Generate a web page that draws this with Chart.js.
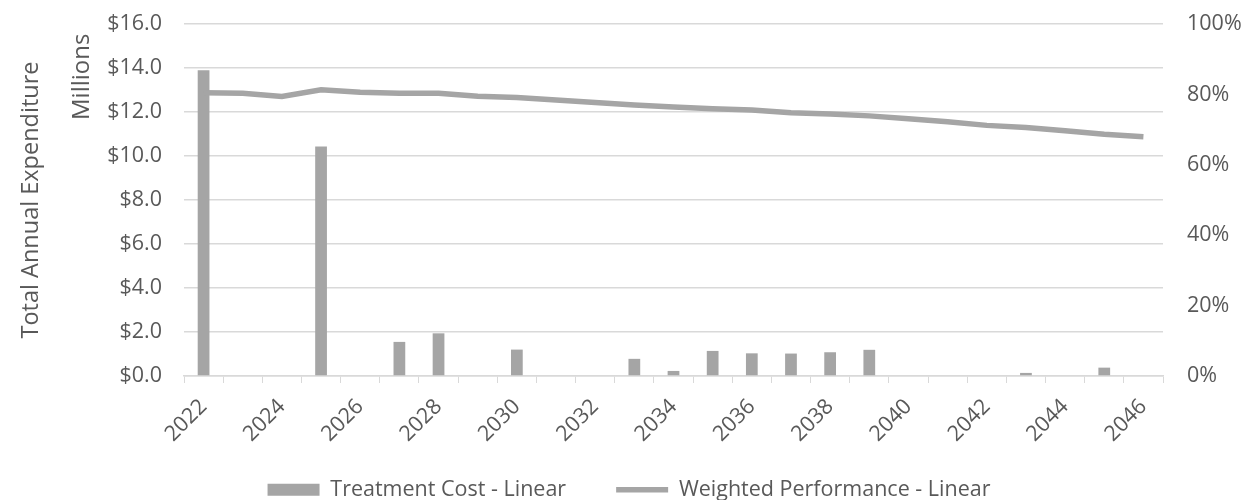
<!DOCTYPE html>
<html>
<head>
<meta charset="utf-8">
<script src="https://cdn.jsdelivr.net/npm/chart.js@4/dist/chart.umd.min.js"></script>
<style>
  html, body { margin: 0; padding: 0; background: #ffffff; }
  #wrap { width: 1245px; height: 500px; }
</style>
</head>
<body>
<div id="wrap"><canvas id="chart" width="1245" height="500"></canvas></div>
<script>
// Plan years
const years = ['2022','2023','2024','2025','2026','2027','2028','2029','2030','2031','2032','2033','2034',
               '2035','2036','2037','2038','2039','2040','2041','2042','2043','2044','2045','2046'];

// Treatment cost per year, $ millions
const treatmentCost = [13.9, 0, 0, 10.43, 0, 1.55, 1.94, 0, 1.2, 0, 0, 0.78, 0.23,
                       1.14, 1.03, 1.02, 1.08, 1.19, 0, 0, 0, 0.14, 0, 0.38, 0];

// Weighted network performance, %
const weightedPerformance = [80.5, 80.3, 79.4, 81.3, 80.6, 80.3, 80.3, 79.5, 79.1, 78.4, 77.7, 77.0, 76.4,
                             75.9, 75.6, 74.8, 74.4, 73.9, 73.1, 72.2, 71.2, 70.6, 69.7, 68.7, 68.0];

// Axis ranges
const costAxis = { min: 0, max: 16, step: 2 };
const performanceAxis = { min: 0, max: 100, step: 20 };

const FONT = "'Open Sans', 'Liberation Sans', sans-serif";
const GREY = '#a5a5a5';
const TEXT = '#595959';
const GRID = '#d9d9d9';

// Display-units caption beside the cost axis
const unitsCaption = {
  id: 'unitsCaption',
  afterDraw(chart) {
    const scale = chart.scales.y;
    const ctx = chart.ctx;
    ctx.save();
    ctx.translate(scale.left + 69, scale.getPixelForValue(13.6));
    ctx.rotate(-Math.PI / 2);
    ctx.font = `24px ${FONT}`;
    ctx.fillStyle = TEXT;
    ctx.textAlign = 'center';
    ctx.textBaseline = 'middle';
    ctx.fillText('Millions', 0, 0);
    ctx.restore();
  }
};

// Let the slanted year labels run down into the legend band instead of being cut at the axis box
const yearLabelRoom = {
  id: 'yearLabelRoom',
  beforeDraw(chart) {
    chart.scales.x.bottom = chart.height;
  }
};

// Vertical axes: fixed width, and no extra head/foot room beyond the layout padding
const fixVertical = width => scale => {
  scale.width = width;
  scale.paddingTop = 0;
  scale.paddingBottom = 0;
};

new Chart(document.getElementById('chart'), {
  data: {
    labels: years,
    datasets: [
      {
        type: 'bar',
        label: 'Treatment Cost - Linear',
        data: treatmentCost,
        yAxisID: 'y',
        backgroundColor: GREY,
        borderWidth: 0,
        categoryPercentage: 1,
        barPercentage: 0.3,
        order: 2
      },
      {
        type: 'line',
        label: 'Weighted Performance - Linear',
        data: weightedPerformance,
        yAxisID: 'y2',
        borderColor: GREY,
        backgroundColor: GREY,
        borderWidth: 5.5,
        pointRadius: 0,
        pointHoverRadius: 0,
        tension: 0,
        fill: false,
        order: 1
      }
    ]
  },
  options: {
    responsive: false,
    devicePixelRatio: 1,
    animation: false,
    layout: { padding: { left: 13, right: 0, top: 24, bottom: 0 } },
    plugins: {
      tooltip: { enabled: false },
      legend: {
        position: 'bottom',
        maxHeight: 71,
        labels: {
          usePointStyle: true,
          pointStyleWidth: 52,
          boxHeight: 12,
          padding: 50,
          color: TEXT,
          font: { family: FONT, size: 21.5 },
          sort: (a, b) => a.datasetIndex - b.datasetIndex,
          generateLabels(chart) {
            const items = Chart.defaults.plugins.legend.labels.generateLabels(chart);
            items.forEach(item => {
              if (item.datasetIndex === 0) {
                item.pointStyle = 'rect';
                item.fillStyle = GREY;
                item.lineWidth = 0;
              } else {
                item.pointStyle = 'line';
                item.strokeStyle = GREY;
                item.lineWidth = 5.5;
              }
            });
            return items;
          }
        }
      }
    },
    scales: {
      x: {
        offset: true,
        grid: { display: true, drawOnChartArea: false, drawTicks: true, tickLength: 7, offset: true, color: GRID },
        border: { display: true, color: GRID, width: 1.5 },
        ticks: {
          autoSkip: false,
          minRotation: 45,
          maxRotation: 45,
          padding: 11,
          color: TEXT,
          font: { family: FONT, size: 21.5 },
          callback(value, index) { return index % 2 === 0 ? years[index] : ''; }
        },
        afterFit(scale) { scale.height = 53; }
      },
      y: {
        position: 'left',
        min: costAxis.min,
        max: costAxis.max,
        grid: { color: GRID, lineWidth: 1.5, drawTicks: false },
        border: { display: false },
        ticks: {
          stepSize: costAxis.step,
          padding: 22,
          color: TEXT,
          font: { family: FONT, size: 21.5 },
          callback(v) { return '$' + v.toFixed(1); }
        },
        title: {
          display: true,
          text: 'Total Annual Expenditure',
          color: TEXT,
          font: { family: FONT, size: 23.5 },
          padding: { top: 4, bottom: 4 }
        },
        afterFit: fixVertical(171)
      },
      y2: {
        position: 'right',
        min: performanceAxis.min,
        max: performanceAxis.max,
        grid: { drawOnChartArea: false, drawTicks: false },
        border: { display: false },
        ticks: {
          stepSize: performanceAxis.step,
          padding: 24,
          color: TEXT,
          font: { family: FONT, size: 21.5 },
          callback(v) { return v + '%'; }
        },
        afterFit: fixVertical(82)
      }
    }
  },
  plugins: [unitsCaption, yearLabelRoom]
});
</script>
</body>
</html>
